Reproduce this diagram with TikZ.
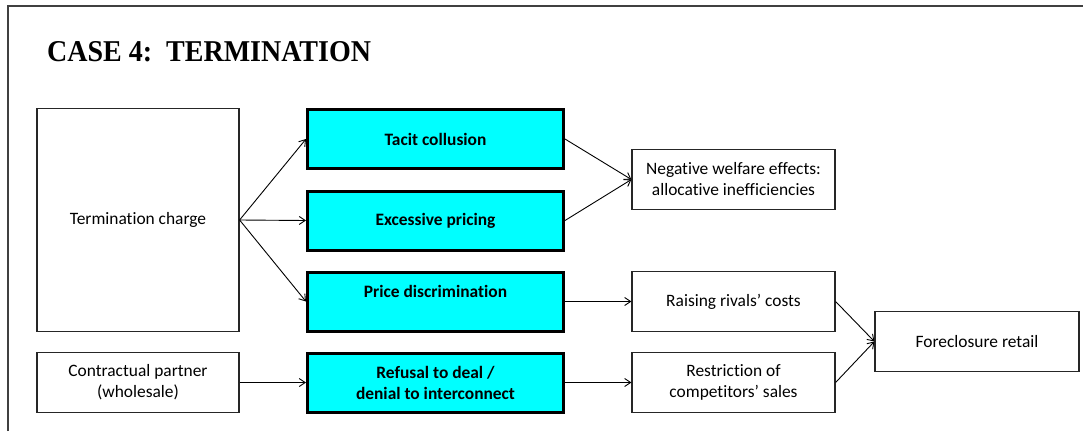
\documentclass[tikz,border=0pt]{standalone}
\usepackage{fontspec}
\setmainfont[Ligatures=NoCommon]{Carlito}
\newfontfamily\titlefont{Liberation Serif}
\usetikzlibrary{arrows.meta}
\definecolor{boxcyan}{HTML}{00FFFF}
\definecolor{framegray}{HTML}{404040}
\tikzset{
  every node/.style={font=\fontsize{17.4}{21}\selectfont, align=center, inner sep=0pt},
  plainbox/.style={draw=black!85, line width=1.2pt, fill=white,
    minimum width=202pt, minimum height=60pt},
  measure/.style={draw=black, line width=3pt, fill=boxcyan,
    minimum width=256pt, minimum height=59pt, font=\fontsize{17.4}{21}\selectfont\bfseries},
  link/.style={draw=black, line width=0.9pt, -{Straight Barb[length=6pt,width=8pt]}},
}
\begin{document}
\begin{tikzpicture}[x=1pt, y=-1pt]
\useasboundingbox (0,0) rectangle (1083,431);
% open frame around the chart
\draw[framegray, line width=1.6pt] (8,431) -- (8,6) -- (1083,6);
\node[anchor=base west, font=\fontsize{28}{30}\selectfont\titlefont\bfseries] (title) at (47,61) {\scalebox{1}[1.08]{CASE 4:\ \ TERMINATION}};

% source boxes
\node[plainbox, minimum height=223pt] (term) at (138,220) {Termination charge};
\node[plainbox] (contr) at (138,382.5) {Contractual partner\\(wholesale)};

% conduct boxes
\node[measure] (tacit) at (435.5,139) {Tacit collusion};
\node[measure] (excess) at (435.5,220.5) {Excessive pricing};
\node[measure] (price) at (435.5,301.5) {Price discrimination\\\mbox{}};
\node[measure] (refusal) at (435.5,382.5) {Refusal to deal /\\denial to interconnect};

% effect boxes
\node[plainbox, minimum width=203pt] (neg) at (733.5,179.5) {Negative welfare effects:\\allocative inefficiencies};
\node[plainbox, minimum width=203pt] (raise) at (733.5,301.5) {Raising rivals’ costs};
\node[plainbox, minimum width=203pt] (restr) at (733.5,382.5) {Restriction of\\competitors’ sales};
\node[plainbox, minimum width=204pt] (fore) at (977,341.5) {Foreclosure retail};

% connectors
\draw[link] (term.east) -- (tacit.west);
\draw[link] (term.east) -- (excess.west);
\draw[link] (term.east) -- (price.west);
\draw[link] (contr.east) -- (refusal.west);
\draw[link] (tacit.east) -- (neg.west);
\draw[link] (excess.east) -- (neg.west);
\draw[link] (price.east) -- (raise.west);
\draw[link] (refusal.east) -- (restr.west);
\draw[link] (raise.east) -- (fore.west);
\draw[link] (restr.east) -- (fore.west);
\end{tikzpicture}
\end{document}
